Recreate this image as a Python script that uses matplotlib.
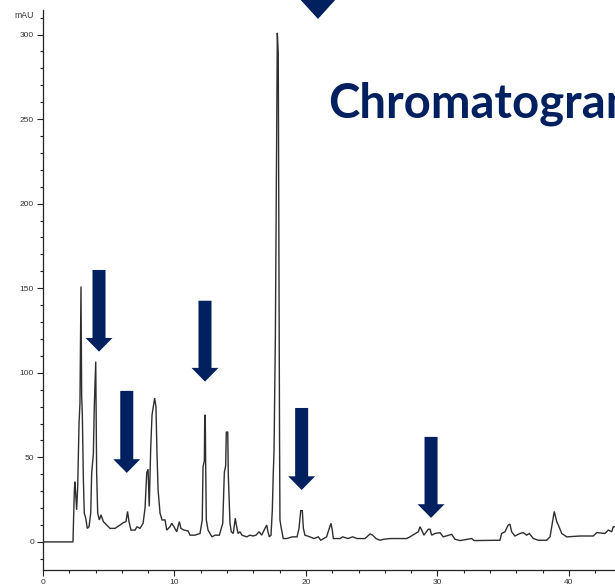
import matplotlib
matplotlib.use("Agg")
import matplotlib.pyplot as plt
from matplotlib.ticker import MultipleLocator

# ---- data (retention time in min, absorbance in mAU)
time_min = [0.00, 2.28, 2.38, 2.43, 2.56, 2.64, 2.74, 2.81, 2.89, 2.94, 2.99, 3.07,
            3.14, 3.25, 3.37, 3.50, 3.63, 3.70, 3.83, 3.90, 4.01, 4.08, 4.16, 4.28,
            4.41, 4.59, 4.84, 5.10, 5.48, 5.86, 6.11, 6.31, 6.43, 6.54, 6.69, 7.00,
            7.15, 7.38, 7.61, 7.76, 7.89, 7.99, 8.08, 8.19, 8.29, 8.49, 8.59, 8.67,
            8.75, 8.90, 9.05, 9.28, 9.41, 9.66, 9.79, 9.96, 10.17, 10.37, 10.49, 10.72,
            11.03, 11.18, 11.56, 11.94, 12.11, 12.17, 12.27, 12.30, 12.34, 12.37, 12.42, 12.55,
            12.70, 12.85, 13.08, 13.41, 13.67, 13.79, 13.89, 13.94, 14.05, 14.09, 14.14, 14.22,
            14.32, 14.47, 14.62, 14.73, 14.83, 14.98, 15.13, 15.49, 15.74, 15.97, 16.20, 16.43,
            16.63, 16.88, 17.01, 17.11, 17.21, 17.34, 17.44, 17.51, 17.57, 17.67, 17.72, 17.80,
            17.82, 17.89, 17.95, 17.99, 18.02, 18.10, 18.27, 18.53, 18.96, 19.32, 19.47, 19.60,
            19.72, 19.80, 19.92, 20.30, 20.61, 20.94, 21.12, 21.57, 21.77, 21.90, 22.00, 22.08,
            22.59, 22.79, 23.19, 23.55, 23.88, 24.49, 24.87, 25.07, 25.32, 25.63, 25.93, 26.39,
            27.15, 27.66, 27.91, 28.54, 28.67, 28.80, 28.97, 29.30, 29.43, 29.56, 29.81, 30.19,
            30.44, 31.08, 31.33, 31.71, 32.60, 32.78, 34.75, 34.88, 35.13, 35.38, 35.51, 35.64,
            35.89, 36.27, 36.53, 36.78, 36.98, 37.29, 37.67, 38.30, 38.56, 38.71, 38.88, 39.07,
            39.19, 39.45, 39.83, 40.84, 41.85, 42.11, 42.74, 42.99, 43.25, 43.37, 43.50]
absorbance_mau = [0, 0, 30, 35.6, 19, 33, 70, 82, 151, 86, 76, 37,
                  17, 14, 8, 9, 17, 40.6, 52, 80, 106.6, 40.6, 17, 13,
                  16, 12, 10, 8, 8, 10, 11.4, 12, 18, 12, 7, 7,
                  9, 8, 11, 20, 41, 43, 21, 55, 75, 85, 80, 52,
                  31, 17, 13, 13, 7, 9, 11, 9, 6, 12, 8, 7,
                  6.5, 4, 4, 5, 13, 44.5, 48, 75, 75, 47, 13, 7,
                  5, 3, 4, 4, 11, 41, 45, 65, 65, 40, 29, 11,
                  6, 5, 14, 9, 5, 6, 4, 3, 4, 3.5, 4, 6,
                  4, 8, 10, 6, 3, 4, 19, 40, 54, 120, 178, 280,
                  301, 289, 150, 60, 13, 9, 2, 2, 3, 3, 8, 18.5,
                  18.5, 8, 4, 3, 2, 3, 1, 3, 8, 11, 7, 2,
                  2, 3, 2, 3, 2, 2, 4.7, 4, 2, 1, 1.6, 2,
                  2, 2, 3, 6, 9, 7, 4, 7.5, 7.5, 4, 5, 5.5,
                  3, 4.5, 1.6, 0.8, 2, 0.8, 1, 5, 6, 10, 10.5, 6,
                  3.5, 5, 5.5, 4, 5, 2, 1, 1, 3, 10, 18, 12,
                  10, 5, 3, 3.5, 3.5, 5.5, 5, 7, 6, 9, 9]

# arrows marking peaks: tip time, tip value, top of shaft value
arrow_tip_time = [4.26, 6.37, 12.32, 19.67, 29.51]
arrow_tip_mau = [112.5, 40.8, 94.8, 30.7, 14.2]
arrow_top_mau = [160.8, 89.3, 142.6, 79.2, 62.1]

x_ticks = [0, 10, 20, 30, 40]
y_ticks = [0, 50, 100, 150, 200, 250, 300]
title_text = "Chromatogram"
unit_label = "mAU"

NAVY = "#002060"
W, H = 615, 585

fig = plt.figure(figsize=(W / 100, H / 100), dpi=100)
ax = fig.add_axes([43 / W, 15 / H, (W - 43) / W, (570 - 10) / H])
ax.set_xlim(0, 43.5)
ax.set_ylim(-16.6, 314.5)

ax.plot(time_min, absorbance_mau, color="#2e2e2e", lw=1.0, solid_joinstyle="miter")

# arrows
shaft_w = 0.99
head_w = 2.05
head_len = 8.1
for t, tip, top in zip(arrow_tip_time, arrow_tip_mau, arrow_top_mau):
    base = tip + head_len
    xs = [t - shaft_w / 2, t + shaft_w / 2, t + shaft_w / 2, t + head_w / 2, t,
          t - head_w / 2, t - shaft_w / 2]
    ys = [top, top, base, base, tip, base, base]
    ax.fill(xs, ys, color=NAVY, lw=0, zorder=5)

# large arrow head cut by the top edge
big_t, big_tip = 20.91, 309.2
big_hw, big_hl = 3.04, 13.0
ax.fill([big_t - big_hw / 2, big_t + big_hw / 2, big_t],
        [big_tip + big_hl, big_tip + big_hl, big_tip],
        color=NAVY, lw=0, zorder=5, clip_on=False)

for s in ["top", "right"]:
    ax.spines[s].set_visible(False)
for s in ["left", "bottom"]:
    ax.spines[s].set_color("#222222")
    ax.spines[s].set_linewidth(0.9)

ax.set_xticks(x_ticks)
ax.set_yticks(y_ticks)
ax.xaxis.set_minor_locator(MultipleLocator(2))
ax.yaxis.set_minor_locator(MultipleLocator(10))
ax.tick_params(which="major", length=4.0, width=0.8, color="#222222",
               labelsize=6.0, labelcolor="#333333", pad=2.5)
ax.tick_params(which="minor", length=2.3, width=0.8, color="#222222")
for lab in ax.get_xticklabels() + ax.get_yticklabels():
    lab.set_fontfamily("Liberation Sans")

fig.text(33.5 / W, 1 - 16 / H, unit_label, ha="right", va="center",
         fontsize=6.3, color="#333333", family="Liberation Sans")

fig.text(328 / W, 1 - 117 / H, title_text, ha="left", va="baseline",
         fontsize=34, fontweight="bold", color=NAVY, family="Lato")

fig.savefig("out.png", dpi=100)
